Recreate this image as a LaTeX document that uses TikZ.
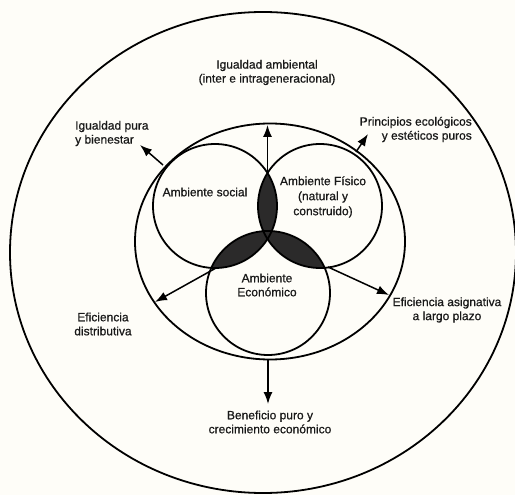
\documentclass[tikz,border=0pt]{standalone}
\usepackage{fontspec}
\setmainfont{Liberation Sans}[FakeBold=0.7]
\usetikzlibrary{arrows.meta}
\definecolor{paper}{HTML}{FEFDF8}
\definecolor{lens}{HTML}{2B2A2A}
\tikzset{
  ring/.style={draw=black, line width=1.8pt},
  conn/.style={draw=black, line width=1.5pt, -{Latex[length=12pt,width=9pt]}},
  lbl/.style={font=\fontsize{12}{14}\selectfont, text=black!90, align=center, inner sep=0pt},
}
\begin{document}
\begin{tikzpicture}[x=1pt,y=-1pt]
\useasboundingbox (0,0) rectangle (515,495);
\fill[paper] (0,0) rectangle (515,495);

% centres
\coordinate (cO) at (263,252.5);
\coordinate (cM) at (270,241.5);
\coordinate (cS) at (215,206);
\coordinate (cF) at (320,206);
\coordinate (cE) at (268,293);

% shaded lenses
\begin{scope}
  \clip (cS) circle [radius=62pt];
  \fill[lens] (cF) circle [radius=62pt];
  \fill[lens] (cE) circle [radius=62pt];
\end{scope}
\begin{scope}
  \clip (cF) circle [radius=62pt];
  \fill[lens] (cE) circle [radius=62pt];
\end{scope}

% rings
\draw[ring] (cO) ellipse [x radius=253pt, y radius=240.5pt];
\draw[ring] (cM) ellipse [x radius=135pt, y radius=118pt];
\draw[ring] (cS) circle [radius=62pt];
\draw[ring] (cF) circle [radius=62pt];
\draw[ring] (cE) circle [radius=62pt];

% connector end points
\coordinate (top)   at (267.5,172);
\coordinate (topT)  at (267.5,125);
\coordinate (ulS)   at (163,165);
\coordinate (ulT)   at (140,145);
\coordinate (urS)   at (356,152);
\coordinate (urT)   at (368,134);
\coordinate (llS)   at (216,268);
\coordinate (llT)   at (155,302);
\coordinate (lrS)   at (328,267);
\coordinate (lrT)   at (389,295);
\coordinate (dnS)   at (268,359.5);
\coordinate (dnT)   at (268,404);

\draw[conn] (top) -- (topT);
\draw[conn] (ulS) -- (ulT);
\draw[conn] (urS) -- (urT);
\draw[conn] (llS) -- (llT);
\draw[conn] (lrS) -- (lrT);
\draw[conn] (dnS) -- (dnT);

% labels
\node[lbl] (igamb) at (267,72.5) {Igualdad ambiental\\(inter e intrageneracional)};
\node[lbl, anchor=west, align=left] (igpura) at (75,133.5) {Igualdad pura\\y bienestar};
\node[lbl, anchor=east, align=right] (princ) at (472,129.5) {Principios ecológicos\\y estéticos puros};
\node[lbl] (efdist) at (103,324) {Eficiencia\\distributiva};
\node[lbl] (efasig) at (447,310) {Eficiencia asignativa\\a largo plazo};
\node[lbl] (benef) at (270,422) {Beneficio puro y\\crecimiento económico};
\node[lbl] (asoc) at (205,192) {Ambiente social};
\node[lbl, font=\fontsize{12}{15}\selectfont] (afis) at (323,197) {Ambiente Físico\\(natural y\\construido)};
\node[lbl] (aeco) at (267,285) {Ambiente\\Económico};
\end{tikzpicture}
\end{document}
